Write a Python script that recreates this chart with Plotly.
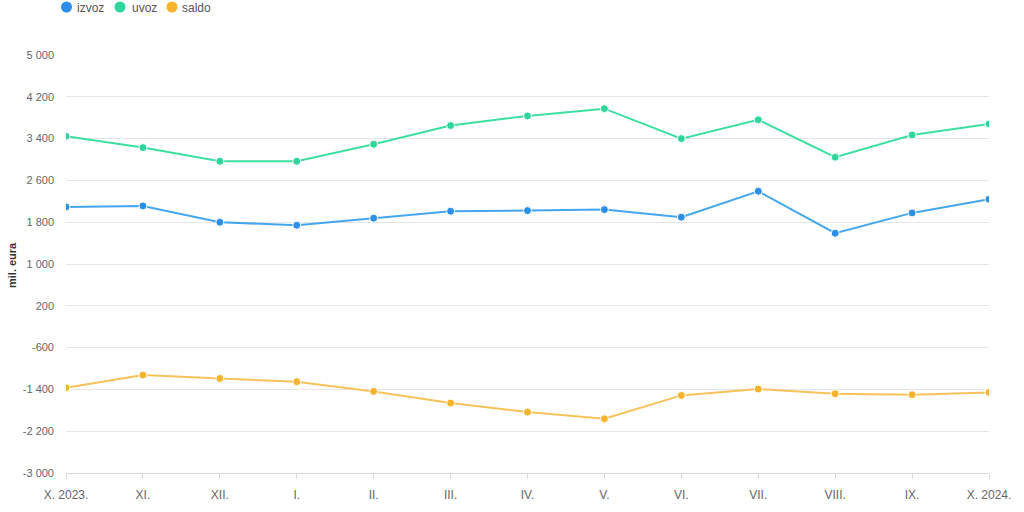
import plotly.graph_objects as go

months = ["X. 2023.", "XI.", "XII.", "I.", "II.", "III.", "IV.", "V.", "VI.", "VII.", "VIII.", "IX.", "X. 2024."]
izvoz = [2093, 2112, 1800, 1742, 1877, 2010, 2022, 2041, 1896, 2393, 1589, 1978, 2240]
uvoz = [3445, 3228, 2966, 2966, 3292, 3650, 3834, 3973, 3400, 3760, 3044, 3470, 3680]
saldo = [-1367, -1126, -1190, -1253, -1438, -1662, -1834, -1962, -1515, -1394, -1483, -1502, -1457]

y_tickvals = [-3000, -2200, -1400, -600, 200, 1000, 1800, 2600, 3400, 4200, 5000]
y_ticktext = ["-3 000", "-2 200", "-1 400", "-600", "200", "1 000", "1 800", "2 600", "3 400", "4 200", "5 000"]

series = [("izvoz", izvoz, "#2b8ee8"), ("uvoz", uvoz, "#2fd69a"), ("saldo", saldo, "#f7b32b")]
line_colors = {"izvoz": "#45a6f0", "uvoz": "#3ddfa0", "saldo": "#f8c25a"}

W, H = 1024, 512
L, R, T, B = 66, 35, 55, 39
pw = W - L - R
ph = H - T - B


def px_x(x):
    return (x - L) / pw


def px_y(y):
    return (H - B - y) / ph


fig = go.Figure()
for name, vals, col in series:
    fig.add_trace(go.Scatter(
        x=months, y=vals, mode="lines+markers", name=name, showlegend=False,
        line=dict(color=line_colors[name], width=2),
        marker=dict(color=col, size=8, line=dict(color="white", width=1)),
    ))

# legend drawn as circle shapes + text annotations
legend_circle_x = [66.5, 120, 172]
legend_text_x = [75, 130, 180]
for (name, vals, col), cx, tx in zip(series, legend_circle_x, legend_text_x):
    fig.add_shape(
        type="circle", xref="paper", yref="paper", xsizemode="pixel", ysizemode="pixel",
        xanchor=px_x(cx), yanchor=px_y(7), x0=-5.5, x1=5.5, y0=-5.5, y1=5.5,
        fillcolor=col, line=dict(width=0),
    )
    fig.add_annotation(
        x=px_x(tx), y=px_y(8), xref="paper", yref="paper", xanchor="left", yanchor="middle",
        showarrow=False, text=name, font=dict(color="#555555", size=12),
    )

fig.add_annotation(
    x=px_x(12), y=px_y(265), xref="paper", yref="paper",
    text="<b>mil. eura</b>", textangle=-90, showarrow=False,
    xanchor="center", yanchor="middle", font=dict(size=11, color="#333333"),
)

fig.update_layout(
    width=W, height=H,
    margin=dict(l=L, r=R, t=T, b=B, autoexpand=False),
    paper_bgcolor="white", plot_bgcolor="white",
    font=dict(family="Liberation Sans, Arial, sans-serif", size=12, color="#666666"),
    showlegend=False,
    xaxis=dict(
        type="category", showgrid=False, showline=True, linecolor="#d8d8d8", linewidth=1,
        ticks="outside", tickcolor="#d8d8d8", ticklen=5, range=[0, 12],
        tickfont=dict(size=12, color="#666666"), zeroline=False, automargin=False,
        ticklabelstandoff=6,
    ),
    yaxis=dict(
        range=[-3000, 5000], tickvals=y_tickvals, ticktext=y_ticktext,
        showgrid=True, gridcolor="#e6e6e6", gridwidth=1, zeroline=False,
        ticks="", ticklabelstandoff=11, automargin=False,
        tickfont=dict(size=11, color="#666666"),
    ),
)

fig.write_html("out.html")
